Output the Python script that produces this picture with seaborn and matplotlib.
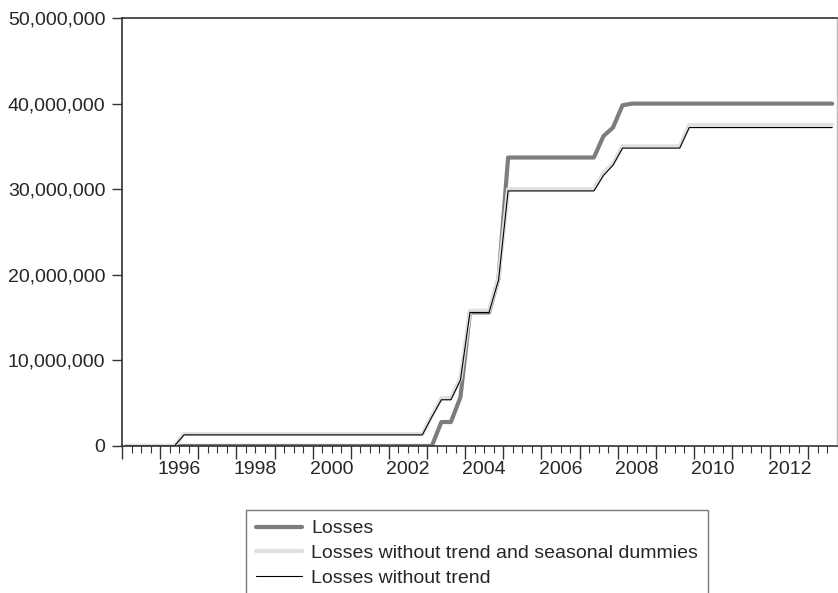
import pandas as pd
import seaborn as sns
import matplotlib.pyplot as plt
from matplotlib.ticker import FuncFormatter

sns.set_style('ticks')
plt.rcParams['font.family'] = ['Liberation Sans', 'DejaVu Sans']

# quarterly observations 1995Q1 .. 2013Q3, values in millions
quarters = pd.period_range('1995Q1', '2013Q3', freq='Q')

losses = [
    0, 0, 0, 0,          # 1995
    0, 0, 0, 0,          # 1996
    0, 0, 0, 0,          # 1997
    0, 0, 0, 0,          # 1998
    0, 0, 0, 0,          # 1999
    0, 0, 0, 0,          # 2000
    0, 0, 0, 0,          # 2001
    0, 0, 0, 0,          # 2002
    0, 2.8, 2.8, 5.7,    # 2003
    15.6, 15.6, 15.6, 19.6,  # 2004
    33.7, 33.7, 33.7, 33.7,  # 2005
    33.7, 33.7, 33.7, 33.7,  # 2006
    33.7, 33.7, 36.2, 37.2,  # 2007
    39.8, 40.0, 40.0, 40.0,  # 2008
    40.0, 40.0, 40.0, 40.0,  # 2009
    40.0, 40.0, 40.0, 40.0,  # 2010
    40.0, 40.0, 40.0, 40.0,  # 2011
    40.0, 40.0, 40.0, 40.0,  # 2012
    40.0, 40.0, 40.0,        # 2013
]

losses_no_trend_seas = [
    0, 0, 0, 0,
    0, 0, 1.4, 1.4,
    1.4, 1.4, 1.4, 1.4,
    1.4, 1.4, 1.4, 1.4,
    1.4, 1.4, 1.4, 1.4,
    1.4, 1.4, 1.4, 1.4,
    1.4, 1.4, 1.4, 1.4,
    1.4, 1.4, 1.4, 1.4,
    3.5, 5.6, 5.6, 7.9,
    15.8, 15.8, 15.8, 19.7,
    30.0, 30.0, 30.0, 30.0,
    30.0, 30.0, 30.0, 30.0,
    30.0, 30.0, 31.9, 33.0,
    35.0, 35.0, 35.0, 35.0,
    35.0, 35.0, 35.0, 37.5,
    37.5, 37.5, 37.5, 37.5,
    37.5, 37.5, 37.5, 37.5,
    37.5, 37.5, 37.5, 37.5,
    37.5, 37.5, 37.5,
]

losses_no_trend = [
    0, 0, 0, 0,
    0, 0, 1.3, 1.3,
    1.3, 1.3, 1.3, 1.3,
    1.3, 1.3, 1.3, 1.3,
    1.3, 1.3, 1.3, 1.3,
    1.3, 1.3, 1.3, 1.3,
    1.3, 1.3, 1.3, 1.3,
    1.3, 1.3, 1.3, 1.3,
    3.4, 5.4, 5.4, 7.7,
    15.6, 15.6, 15.6, 19.4,
    29.8, 29.8, 29.8, 29.8,
    29.8, 29.8, 29.8, 29.8,
    29.8, 29.8, 31.6, 32.8,
    34.8, 34.8, 34.8, 34.8,
    34.8, 34.8, 34.8, 37.2,
    37.2, 37.2, 37.2, 37.2,
    37.2, 37.2, 37.2, 37.2,
    37.2, 37.2, 37.2, 37.2,
    37.2, 37.2, 37.2,
]

# observation plotted at the middle of its quarter
df = pd.DataFrame({
    't': quarters.year + (quarters.quarter - 1) / 4 + 0.125,
    'Losses': [v * 1e6 for v in losses],
    'NoTrendSeas': [v * 1e6 for v in losses_no_trend_seas],
    'NoTrend': [v * 1e6 for v in losses_no_trend],
})

fig = plt.figure(figsize=(8.38, 5.93), dpi=100)
ax = fig.add_axes([122 / 838, 1 - 446 / 593, 715 / 838, 428 / 593])

sns.lineplot(data=df, x='t', y='Losses', ax=ax, color='#7d7d7d', linewidth=3.0,
             label='Losses')
sns.lineplot(data=df, x='t', y='NoTrendSeas', ax=ax, color='#e0e0e0', linewidth=3.0,
             label='Losses without trend and seasonal dummies')
sns.lineplot(data=df, x='t', y='NoTrend', ax=ax, color='black', linewidth=0.8,
             label='Losses without trend')

ax.set_xlim(1995, 2013.75)
ax.set_ylim(0, 50e6)
ax.set_xlabel('')
ax.set_ylabel('')

# year ticks (long), quarter ticks (short), labels in the middle of even years
years = list(range(1995, 2014))
ax.set_xticks(years, labels=[''] * len(years))
minor_pos = [y + q / 4 for y in range(1995, 2014) for q in (1, 2, 3) if y + q / 4 < 2013.75]
minor_lab = [str(int(p - 0.5)) if (p % 1 == 0.5 and int(p) % 2 == 0 and int(p) >= 1996) else ''
             for p in minor_pos]
ax.set_xticks(minor_pos, labels=minor_lab, minor=True)
ax.tick_params(axis='x', which='major', length=9, width=1, color='#333333')
ax.tick_params(axis='x', which='minor', length=5, width=0.8, color='#333333',
               labelsize=14, pad=6)

ax.set_yticks([0, 10e6, 20e6, 30e6, 40e6, 50e6])
ax.yaxis.set_major_formatter(FuncFormatter(lambda v, p: f'{int(v):,}'))
ax.tick_params(axis='y', length=7, width=1, color='#333333', labelsize=14, pad=5)

for side in ['left', 'top', 'bottom']:
    ax.spines[side].set_color('#333333')
    ax.spines[side].set_linewidth(1.2)
ax.spines['right'].set_color('#bbbbbb')
ax.spines['right'].set_linewidth(1.0)

leg = ax.legend(loc='upper left', bbox_to_anchor=(246 / 838, 1 - 510 / 593),
                bbox_transform=fig.transFigure, borderaxespad=0, fontsize=14,
                frameon=True, fancybox=False, shadow=False, handlelength=2.4,
                handletextpad=0.45, borderpad=0.5, labelspacing=0.37)
leg.get_frame().set_edgecolor('#555555')
leg.get_frame().set_linewidth(1.0)

fig.savefig('out.png', dpi=100)
